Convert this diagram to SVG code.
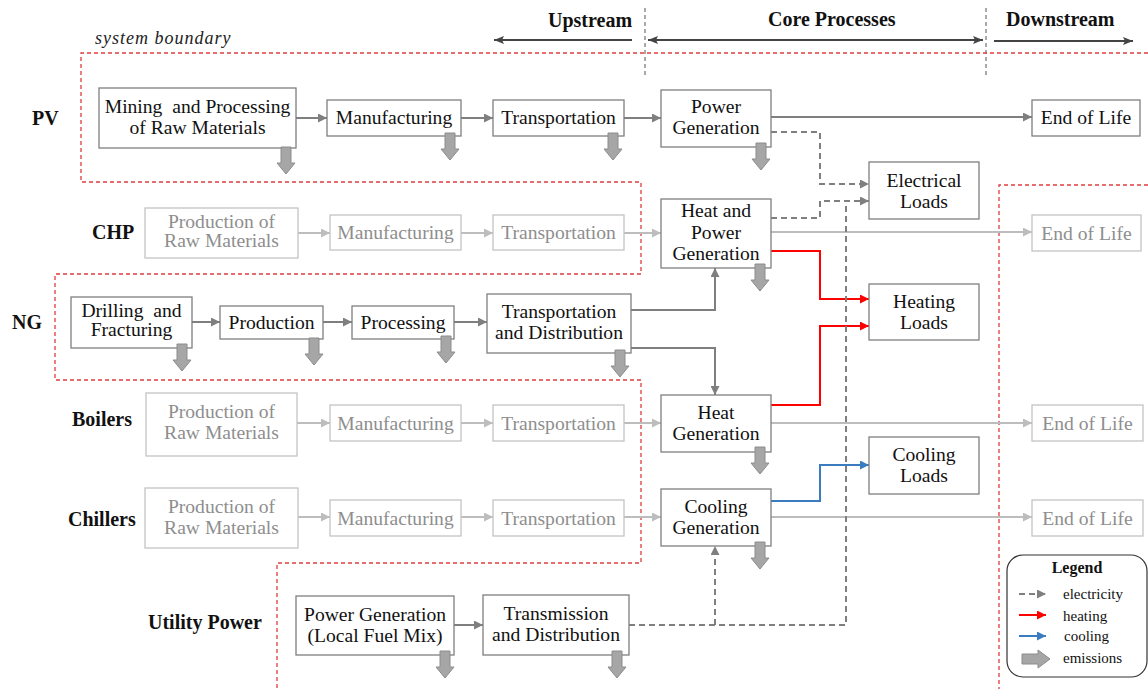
<svg xmlns="http://www.w3.org/2000/svg" xmlns:xlink="http://www.w3.org/1999/xlink" width="1148" height="689" viewBox="0 0 1148 689">
  <style>
    .bx{fill:#fff;stroke:#7f7f7f;stroke-width:1.3}
    .lbx{fill:#fff;stroke:#c4c4c4;stroke-width:1.3}
    text{font-family:"Liberation Serif","Times New Roman",serif}
    .t{font-size:19.6px;fill:#111;text-anchor:middle}
    .lt{font-size:19.6px;fill:#8e8e8e;text-anchor:middle}
    .row{font-size:20px;font-weight:bold;fill:#111}
    .hdr{font-size:20px;font-weight:bold;fill:#111}
    .lg{font-size:15px;fill:#111}
    .flow{fill:none;stroke:#7f7f7f;stroke-width:2;marker-end:url(#ah)}
    .lflow{fill:none;stroke:#bdbdbd;stroke-width:2;marker-end:url(#ahl)}
    .elec{fill:none;stroke:#7f7f7f;stroke-width:2;stroke-dasharray:6,4;marker-end:url(#ah)}
    .elecn{fill:none;stroke:#7f7f7f;stroke-width:2;stroke-dasharray:6,4}
    .heat{fill:none;stroke:#ff0000;stroke-width:2;marker-end:url(#ahr)}
    .cool{fill:none;stroke:#3b7cc0;stroke-width:2;marker-end:url(#ahb)}
    .hd{fill:none;stroke:#444;stroke-width:2}
    .sep{fill:none;stroke:#555;stroke-width:1;stroke-dasharray:4,3}
    .bnd{fill:none;stroke:#e03c3c;stroke-width:1.3;stroke-dasharray:4,3}
    .em{fill:#a6a6a6;stroke:#8c8c8c;stroke-width:1}
  </style>
  <defs>
    <marker id="ah" viewBox="0 0 10 10" refX="10" refY="5" markerWidth="9" markerHeight="9" markerUnits="userSpaceOnUse" orient="auto"><path d="M0,0 L10,5 L0,10 z" fill="#7f7f7f"/></marker>
    <marker id="ahl" viewBox="0 0 10 10" refX="10" refY="5" markerWidth="9" markerHeight="9" markerUnits="userSpaceOnUse" orient="auto"><path d="M0,0 L10,5 L0,10 z" fill="#bdbdbd"/></marker>
    <marker id="ahr" viewBox="0 0 10 10" refX="10" refY="5" markerWidth="9" markerHeight="9" markerUnits="userSpaceOnUse" orient="auto"><path d="M0,0 L10,5 L0,10 z" fill="#ff0000"/></marker>
    <marker id="ahb" viewBox="0 0 10 10" refX="10" refY="5" markerWidth="9" markerHeight="9" markerUnits="userSpaceOnUse" orient="auto"><path d="M0,0 L10,5 L0,10 z" fill="#3b7cc0"/></marker>
    <marker id="ahd" viewBox="0 0 10 10" refX="10" refY="5" markerWidth="10" markerHeight="10" markerUnits="userSpaceOnUse" orient="auto-start-reverse"><path d="M0,1 L10,5 L0,9 L2,5 z" fill="#444"/></marker>
    <!-- downward emissions arrow, origin at top centre -->
    <path id="em" class="em" d="M-5,0 h10 v16 h4 l-9,11 l-9,-11 h4 z"/>
  </defs>

  <!-- life-cycle stage headers -->
  <g id="headers">
    <text class="hdr" x="548" y="27">Upstream</text>
    <text class="hdr" x="768" y="26">Core Processes</text>
    <text class="hdr" x="1006" y="26">Downstream</text>
    <path class="hd" d="M632,40 H494" marker-end="url(#ahd)"/>
    <path class="hd" d="M648,40 H983" marker-start="url(#ahd)" marker-end="url(#ahd)"/>
    <path class="hd" d="M994,41 H1133" marker-end="url(#ahd)"/>
    <path class="sep" d="M645,8 V78 M986,8 V78"/>
  </g>

  <!-- system boundary -->
  <g id="boundary">
    <text x="95" y="44" font-size="18" font-style="italic" letter-spacing="1" fill="#222">system boundary</text>
    <path class="bnd" d="M1148,53 H81 V182 H641 V274 H55 V380 H641 V563 H277 V689"/>
    <path class="bnd" d="M1148,185 H999 V689"/>
  </g>

  <!-- technology row labels -->
  <g id="rows">
    <text class="row" x="32" y="125">PV</text>
    <text class="row" x="92" y="239">CHP</text>
    <text class="row" x="12" y="329">NG</text>
    <text class="row" x="72" y="426">Boilers</text>
    <text class="row" x="68" y="526">Chillers</text>
    <text class="row" x="148" y="629">Utility Power</text>
  </g>

  <!-- connectors -->
  <g id="connectors">
    <!-- PV -->
    <path class="flow" d="M296,118 H327"/>
    <path class="flow" d="M461,118 H493"/>
    <path class="flow" d="M624,118 H661"/>
    <path class="flow" d="M771,117 H1032"/>
    <path class="elec" d="M771,132 H820 V184 H869"/>
    <!-- CHP -->
    <path class="lflow" d="M298,233 H330"/>
    <path class="lflow" d="M461,233 H493"/>
    <path class="lflow" d="M624,233 H661"/>
    <path class="lflow" d="M771,232 H1032"/>
    <path class="elec" d="M771,218 H820 V201 H869"/>
    <path class="heat" d="M771,251 H820 V299 H869"/>
    <!-- NG -->
    <path class="flow" d="M192,322 H220"/>
    <path class="flow" d="M323,322 H352"/>
    <path class="flow" d="M454,322 H487"/>
    <path class="flow" d="M631,310 H715 V268"/>
    <path class="flow" d="M631,348 H715 V395"/>
    <!-- Boilers -->
    <path class="lflow" d="M297,423 H330"/>
    <path class="lflow" d="M461,423 H493"/>
    <path class="lflow" d="M624,423 H661"/>
    <path class="lflow" d="M771,423 H1032"/>
    <path class="heat" d="M771,405 H820 V326 H869"/>
    <!-- Chillers -->
    <path class="lflow" d="M298,517 H330"/>
    <path class="lflow" d="M461,517 H493"/>
    <path class="lflow" d="M624,517 H661"/>
    <path class="lflow" d="M771,517 H1032"/>
    <path class="cool" d="M771,501 H820 V465 H869"/>
    <!-- Utility power -->
    <path class="flow" d="M454,625 H483"/>
    <path class="elecn" d="M629,625 H846 V201"/>
    <path class="elec" d="M715,625 V546"/>
  </g>

  <!-- PV chain -->
  <g id="pv-mining"><rect class="bx" x="99" y="88" width="197" height="60"/><text class="t" x="197.5" y="113" xml:space="preserve">Mining  and Processing</text><text class="t" x="197.5" y="134">of Raw Materials</text></g>
  <g id="pv-manufacturing"><rect class="bx" x="327" y="100" width="134" height="36"/><text class="t" x="394" y="124">Manufacturing</text></g>
  <g id="pv-transportation"><rect class="bx" x="493" y="100" width="131" height="36"/><text class="t" x="558.5" y="124">Transportation</text></g>
  <g id="pv-generation"><rect class="bx" x="661" y="90" width="110" height="57"/><text class="t" x="716" y="113">Power</text><text class="t" x="716" y="134">Generation</text></g>
  <g id="pv-eol"><rect class="bx" x="1032" y="100" width="108" height="36"/><text class="t" x="1086" y="124">End of Life</text></g>

  <!-- CHP chain -->
  <g id="chp-raw"><rect class="lbx" x="145" y="208" width="153" height="50"/><text class="lt" x="221.5" y="228">Production of</text><text class="lt" x="221.5" y="247">Raw Materials</text></g>
  <g id="chp-manufacturing"><rect class="lbx" x="330" y="215" width="131" height="35"/><text class="lt" x="395.5" y="239">Manufacturing</text></g>
  <g id="chp-transportation"><rect class="lbx" x="493" y="215" width="131" height="35"/><text class="lt" x="558.5" y="239">Transportation</text></g>
  <g id="chp-generation"><rect class="bx" x="661" y="199" width="110" height="69"/><text class="t" x="716" y="217">Heat and</text><text class="t" x="716" y="239">Power</text><text class="t" x="716" y="260">Generation</text></g>
  <g id="chp-eol"><rect class="lbx" x="1032" y="215" width="109" height="36"/><text class="lt" x="1086.5" y="240">End of Life</text></g>

  <!-- NG chain -->
  <g id="ng-drilling"><rect class="bx" x="71" y="297" width="121" height="51"/><text class="t" x="131.5" y="317" xml:space="preserve">Drilling  and</text><text class="t" x="131.5" y="336">Fracturing</text></g>
  <g id="ng-production"><rect class="bx" x="220" y="306" width="103" height="33"/><text class="t" x="271.5" y="329">Production</text></g>
  <g id="ng-processing"><rect class="bx" x="352" y="306" width="102" height="33"/><text class="t" x="403" y="329">Processing</text></g>
  <g id="ng-td"><rect class="bx" x="487" y="294" width="144" height="59"/><text class="t" x="559" y="318">Transportation</text><text class="t" x="559" y="339">and Distribution</text></g>

  <!-- Boiler chain -->
  <g id="boiler-raw"><rect class="lbx" x="146" y="393" width="151" height="63"/><text class="lt" x="221.5" y="418">Production of</text><text class="lt" x="221.5" y="439">Raw Materials</text></g>
  <g id="boiler-manufacturing"><rect class="lbx" x="330" y="405" width="131" height="36"/><text class="lt" x="395.5" y="430">Manufacturing</text></g>
  <g id="boiler-transportation"><rect class="lbx" x="493" y="405" width="131" height="36"/><text class="lt" x="558.5" y="430">Transportation</text></g>
  <g id="boiler-generation"><rect class="bx" x="661" y="395" width="110" height="57"/><text class="t" x="716" y="419">Heat</text><text class="t" x="716" y="440">Generation</text></g>
  <g id="boiler-eol"><rect class="lbx" x="1032" y="405" width="111" height="36"/><text class="lt" x="1087.5" y="430">End of Life</text></g>

  <!-- Chiller chain -->
  <g id="chiller-raw"><rect class="lbx" x="145" y="488" width="153" height="60"/><text class="lt" x="221.5" y="513">Production of</text><text class="lt" x="221.5" y="534">Raw Materials</text></g>
  <g id="chiller-manufacturing"><rect class="lbx" x="330" y="500" width="131" height="36"/><text class="lt" x="395.5" y="525">Manufacturing</text></g>
  <g id="chiller-transportation"><rect class="lbx" x="493" y="500" width="131" height="36"/><text class="lt" x="558.5" y="525">Transportation</text></g>
  <g id="chiller-generation"><rect class="bx" x="661" y="489" width="110" height="57"/><text class="t" x="716" y="513">Cooling</text><text class="t" x="716" y="534">Generation</text></g>
  <g id="chiller-eol"><rect class="lbx" x="1032" y="500" width="111" height="36"/><text class="lt" x="1087.5" y="525">End of Life</text></g>

  <!-- Utility power chain -->
  <g id="utility-generation"><rect class="bx" x="296" y="596" width="158" height="59"/><text class="t" x="375" y="621">Power Generation</text><text class="t" x="375" y="642">(Local Fuel Mix)</text></g>
  <g id="utility-td"><rect class="bx" x="483" y="595" width="146" height="60"/><text class="t" x="556" y="620">Transmission</text><text class="t" x="556" y="641">and Distribution</text></g>

  <!-- end-use loads -->
  <g id="electrical-loads"><rect class="bx" x="869" y="162" width="110" height="57"/><text class="t" x="924" y="187">Electrical</text><text class="t" x="924" y="208">Loads</text></g>
  <g id="heating-loads"><rect class="bx" x="869" y="284" width="110" height="56"/><text class="t" x="924" y="308">Heating</text><text class="t" x="924" y="329">Loads</text></g>
  <g id="cooling-loads"><rect class="bx" x="869" y="437" width="110" height="57"/><text class="t" x="924" y="461">Cooling</text><text class="t" x="924" y="482">Loads</text></g>

  <!-- emissions -->
  <g id="emissions">
    <use xlink:href="#em" x="286" y="147"/>
    <use xlink:href="#em" x="450" y="133"/>
    <use xlink:href="#em" x="613" y="133"/>
    <use xlink:href="#em" x="761" y="143"/>
    <use xlink:href="#em" x="760" y="264"/>
    <use xlink:href="#em" x="182" y="344"/>
    <use xlink:href="#em" x="314" y="338"/>
    <use xlink:href="#em" x="446" y="336"/>
    <use xlink:href="#em" x="620" y="350"/>
    <use xlink:href="#em" x="760" y="447"/>
    <use xlink:href="#em" x="760" y="542"/>
    <use xlink:href="#em" x="445" y="651"/>
    <use xlink:href="#em" x="617" y="651"/>
  </g>

  <!-- legend -->
  <g id="legend">
    <rect x="1007" y="555" width="140" height="122" rx="16" fill="#fff" stroke="#333" stroke-width="1.2"/>
    <text x="1077" y="573" font-size="16" font-weight="bold" text-anchor="middle" fill="#111">Legend</text>
    <path class="elec" d="M1019,594 H1046"/>
    <text class="lg" x="1063" y="599">electricity</text>
    <path class="heat" d="M1019,615 H1046"/>
    <text class="lg" x="1063" y="621">heating</text>
    <path class="cool" d="M1019,636 H1046"/>
    <text class="lg" x="1064" y="641">cooling</text>
    <path class="em" d="M1022,654 h16 v-4 l12,9 l-12,9 v-4 h-16 z"/>
    <text class="lg" x="1063" y="663">emissions</text>
  </g>
</svg>
